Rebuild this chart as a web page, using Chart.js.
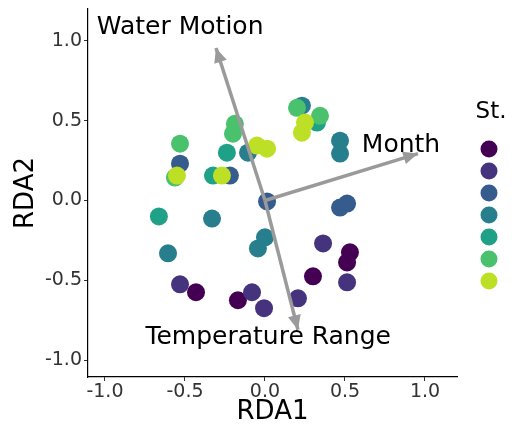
<!DOCTYPE html>
<html>
<head>
<meta charset="utf-8">
<script src="https://cdn.jsdelivr.net/npm/chart.js@4/dist/chart.umd.min.js"></script>
<style>
  html, body { margin: 0; padding: 0; background: #fff; }
  #wrap { width: 514px; height: 428px; }
</style>
</head>
<body>
<div id="wrap"><canvas id="rdaChart"></canvas></div>
<script>
// RDA biplot: sites coloured by station, environmental arrows

const stationColors = ['#440154', '#46337e', '#365c8d', '#277f8e', '#1fa187', '#4ac16d', '#bddf26'];

// site scores per station (RDA1, RDA2)
const st1x = [-0.431, -0.169, 0.300, 0.531, 0.513];
const st1y = [-0.575, -0.625, -0.475, -0.325, -0.388];
const st2x = [-0.531, -0.081, -0.006, 0.206, 0.363, 0.513];
const st2y = [-0.525, -0.575, -0.675, -0.613, -0.269, -0.513];
const st3x = [-0.531, -0.219, 0.013, 0.469, 0.513];
const st3y = [0.231, 0.156, -0.006, -0.044, -0.019];
const st4x = [-0.606, -0.331, 0.000, -0.044, -0.106, 0.469, 0.469, 0.231];
const st4y = [-0.331, -0.113, -0.231, -0.300, 0.300, 0.375, 0.294, 0.594];
const st5x = [-0.663, -0.325, -0.238, 0.325];
const st5y = [-0.100, 0.156, 0.300, 0.488];
const st6x = [-0.531, -0.563, -0.200, -0.188, 0.200, 0.344];
const st6y = [0.356, 0.144, 0.419, 0.481, 0.581, 0.531];
const st7x = [-0.550, -0.269, -0.050, 0.013, 0.250, 0.231];
const st7y = [0.156, 0.156, 0.344, 0.325, 0.488, 0.425];

// environmental vectors
const arrowNames = ['Water Motion', 'Month', 'Temperature Range'];
const arrowX = [-0.306, 0.956, 0.206];
const arrowY = [0.956, 0.294, -0.810];
const arrowLabelX = [-0.53, 0.85, 0.02];
const arrowLabelY = [1.085, 0.345, -0.856];

const tickValues = [-1.0, -0.5, 0.0, 0.5, 1.0];
const axisMin = -1.106;
const axisMax = 1.2;

const stationX = [st1x, st2x, st3x, st4x, st5x, st6x, st7x];
const stationY = [st1y, st2y, st3y, st4y, st5y, st6y, st7y];

const FONT = "'DejaVu Sans', sans-serif";

const datasets = [];
stationX.forEach((xs, i) => {
  datasets.push({
    type: 'scatter',
    label: 'St. ' + (i + 1),
    data: xs.map((x, j) => ({ x: x, y: stationY[i][j] })),
    backgroundColor: stationColors[i],
    borderWidth: 0,
    pointRadius: 9,
    pointHoverRadius: 9,
    order: 20 - i
  });
});
arrowNames.forEach((name, i) => {
  datasets.push({
    type: 'line',
    label: name,
    data: [{ x: 0, y: 0 }, { x: arrowX[i], y: arrowY[i] }],
    borderColor: '#9a9a9a',
    borderWidth: 3.5,
    pointRadius: 0,
    fill: false,
    order: 0
  });
});

const biplotExtras = {
  id: 'biplotExtras',
  afterDatasetsDraw(chart) {
    const ctx = chart.ctx;
    const xs = chart.scales.x, ys = chart.scales.y;
    ctx.save();
    // arrowheads
    arrowNames.forEach((name, i) => {
      const x0 = xs.getPixelForValue(0), y0 = ys.getPixelForValue(0);
      const x1 = xs.getPixelForValue(arrowX[i]), y1 = ys.getPixelForValue(arrowY[i]);
      const ang = Math.atan2(y1 - y0, x1 - x0);
      const len = 16, half = 0.42;
      ctx.fillStyle = '#9a9a9a';
      ctx.beginPath();
      ctx.moveTo(x1, y1);
      ctx.lineTo(x1 - len * Math.cos(ang - half), y1 - len * Math.sin(ang - half));
      ctx.lineTo(x1 - len * Math.cos(ang + half), y1 - len * Math.sin(ang + half));
      ctx.closePath();
      ctx.fill();
    });
    // arrow labels
    ctx.fillStyle = '#000';
    ctx.font = '25px ' + FONT;
    ctx.textAlign = 'center';
    ctx.textBaseline = 'middle';
    arrowNames.forEach((name, i) => {
      ctx.fillText(name, xs.getPixelForValue(arrowLabelX[i]), ys.getPixelForValue(arrowLabelY[i]));
    });
    // legend
    const lx = chart.chartArea.right + 32;
    ctx.font = '23px ' + FONT;
    ctx.fillText('St.', lx + 2, chart.chartArea.top + 103);
    stationColors.forEach((c, i) => {
      ctx.fillStyle = c;
      ctx.beginPath();
      ctx.arc(lx, chart.chartArea.top + 140 + i * 22, 8.5, 0, Math.PI * 2);
      ctx.fill();
    });
    ctx.restore();
  }
};

function axisOpts(title, isY) {
  return {
    type: 'linear',
    min: axisMin,
    max: axisMax,
    afterBuildTicks: (scale) => { scale.ticks = tickValues.map(v => ({ value: v })); },
    afterFit: (scale) => {
      if (isY) {
        scale.width = 88;
        scale.paddingTop = 0;
        scale.paddingBottom = 0;
      } else {
        scale.height = 51;
        scale.paddingLeft = 0;
        scale.paddingRight = 0;
      }
    },
    ticks: {
      color: '#333',
      font: { family: FONT, size: 19 },
      padding: isY ? 2 : 0,
      callback: (v) => Number(v).toFixed(1)
    },
    grid: {
      drawOnChartArea: false,
      drawTicks: true,
      tickLength: 4,
      color: '#333'
    },
    border: { display: true, color: '#000', width: 1.2 },
    title: {
      display: true,
      text: title,
      color: '#000',
      font: { family: FONT, size: 26 },
      padding: isY ? { top: 11, bottom: 0 } : { top: 0, bottom: 0 }
    }
  };
}

new Chart(document.getElementById('rdaChart'), {
  data: { datasets: datasets },
  plugins: [biplotExtras],
  options: {
    responsive: true,
    maintainAspectRatio: false,
    animation: false,
    layout: { padding: { left: 0, right: 57, top: 8, bottom: 0 } },
    plugins: {
      legend: { display: false },
      tooltip: { enabled: false }
    },
    scales: {
      x: axisOpts('RDA1', false),
      y: axisOpts('RDA2', true)
    }
  }
});
</script>
</body>
</html>
